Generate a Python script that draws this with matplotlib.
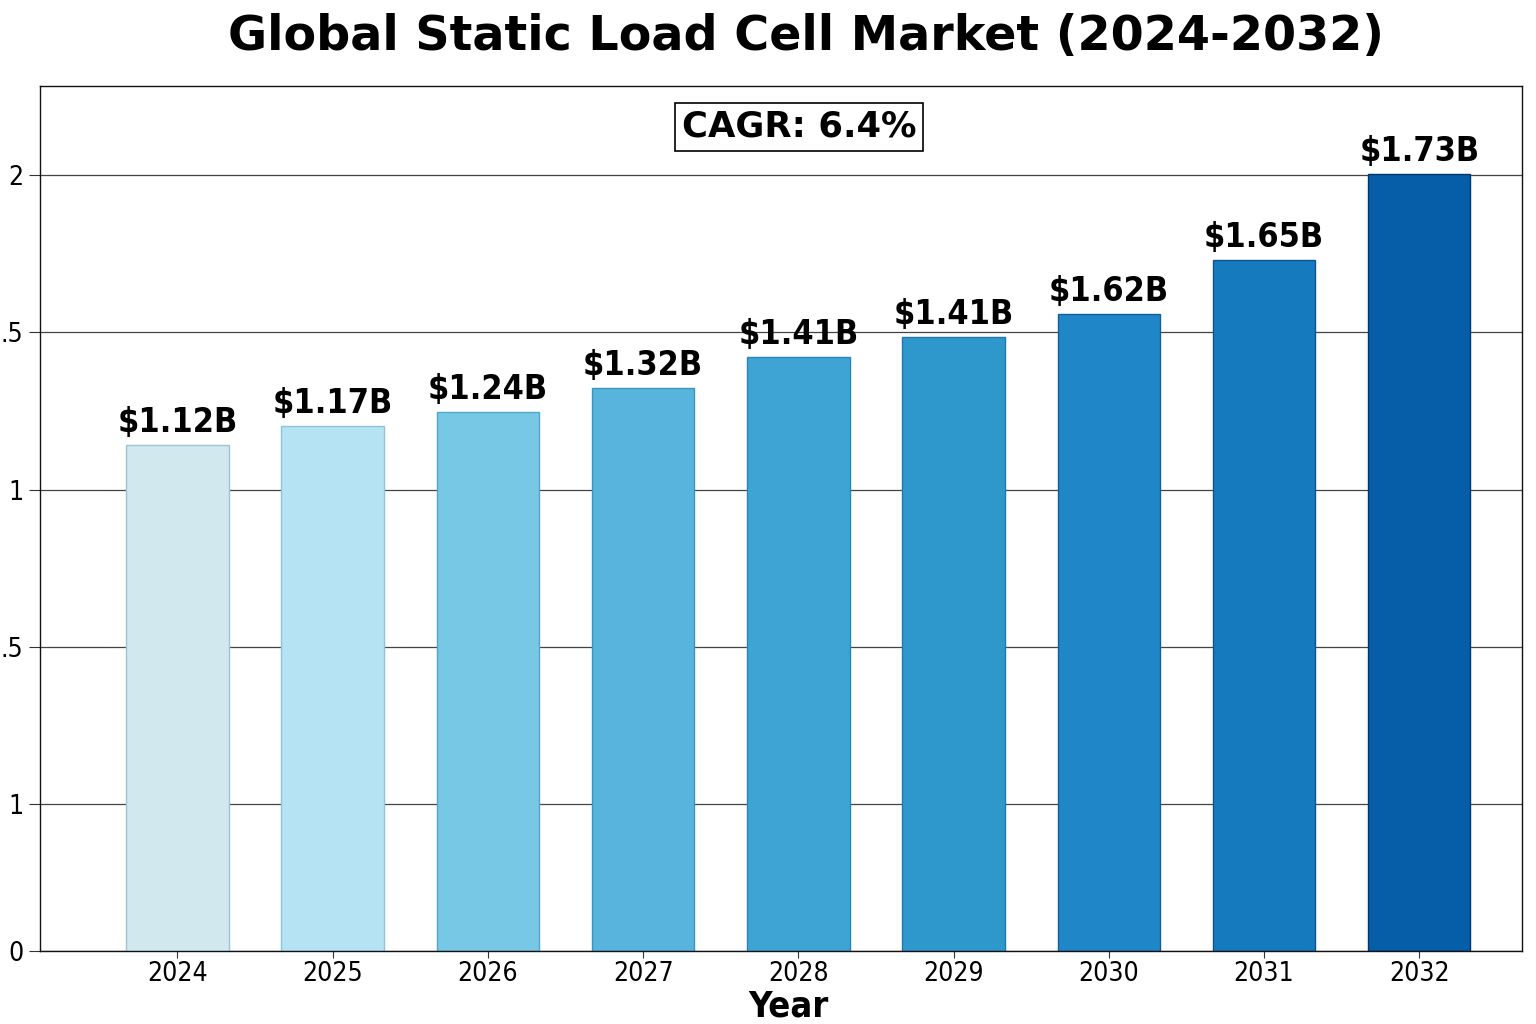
import matplotlib
matplotlib.use("Agg")
import matplotlib.pyplot as plt
import numpy as np

years = ["2024", "2025", "2026", "2027", "2028", "2029", "2030", "2031", "2032"]
value_labels = ["$1.12B", "$1.17B", "$1.24B", "$1.32B", "$1.41B", "$1.41B", "$1.62B", "$1.65B", "$1.73B"]
bar_heights = [1.304, 1.353, 1.389, 1.451, 1.531, 1.582, 1.642, 1.781, 2.003]
bar_colors = ["#d2e8ef", "#b5e3f3", "#76c8e5", "#58b4dc", "#3ea4d4",
              "#2e98cc", "#1f86c7", "#157abe", "#065ea8"]
edge_colors = ["#9cc4d2", "#8cc4d8", "#4fa6c8", "#3a94c0", "#2a84b8",
               "#1f78b0", "#125f9c", "#0c5690", "#03356a"]
ytick_pos = [0, 0.379, 0.784, 1.188, 1.595, 2.0]
ytick_labels = ["0", "1", ".5", "1", ".5", "2"]
cagr_text = "CAGR: 6.4%"
title = "Global Static Load Cell Market (2024-2032)"

fig = plt.figure(figsize=(15.36, 10.24), dpi=100)
ax = fig.add_axes([0.026, 0.0713, 0.965, 0.8447])

x = np.arange(len(years))
ax.bar(x, bar_heights, width=0.66, color=bar_colors, edgecolor=edge_colors,
       linewidth=1.0, zorder=2)

for xi, h, lab in zip(x, bar_heights, value_labels):
    ax.text(xi, h + 0.015, lab, ha="center", va="bottom", fontsize=24.5,
            fontweight="bold", fontstretch="condensed", family="DejaVu Sans",
            zorder=3)

ax.set_xlim(-0.886, 8.663)
ax.set_ylim(0, 2.229)
ax.set_xticks(x)
ax.set_xticklabels(years, fontsize=19, fontstretch="condensed")
ax.set_yticks(ytick_pos)
ax.set_yticklabels(ytick_labels, fontsize=19, fontstretch="condensed")
ax.tick_params(axis="x", length=5, pad=2, color="#333333")
ax.tick_params(axis="y", length=8, pad=4, color="#333333")
ax.yaxis.grid(True, color="#444444", linewidth=0.9, zorder=0)
ax.set_axisbelow(True)
for s in ax.spines.values():
    s.set_linewidth(1.0)
    s.set_color("#111111")

ax.set_xlabel("Year", fontsize=26, fontweight="bold", fontstretch="condensed")
ax.xaxis.set_label_coords(0.505, -0.0636)
ax.xaxis.label.set_va("center")

ax.text(0.512, 0.953, cagr_text, transform=ax.transAxes, ha="center", va="center",
        fontsize=25.5, fontweight="bold",
        bbox=dict(boxstyle="square,pad=0.2", facecolor="white", edgecolor="black", linewidth=1.2))

fig.text(0.525, 0.964, title, ha="center", va="center", fontsize=34.3, fontweight="bold")

fig.savefig("out.png", dpi=100)
